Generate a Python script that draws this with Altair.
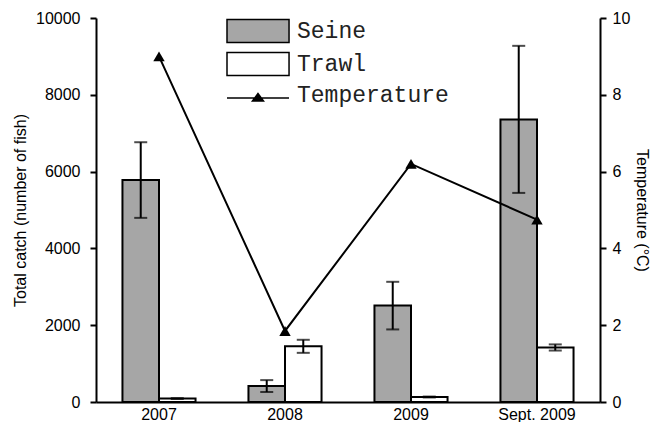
import altair as alt
import pandas as pd

categories = ["2007", "2008", "2009", "Sept. 2009"]
seine = [5780, 415, 2510, 7360]
seine_err = [985, 155, 620, 1915]
trawl = [90, 1450, 130, 1420]
trawl_err = [12, 170, 12, 80]
temperature = [9.0, 1.85, 6.2, 4.75]
series_names = ["Seine", "Trawl", "Temperature"]
series_fill = ["#a6a6a6", "#ffffff", "#000000"]
series_stroke = ["#000000", "#000000", "#000000"]

rows = []
for i, c in enumerate(categories):
    rows.append(dict(cat=c, series="Seine", value=seine[i],
                     lo=seine[i] - seine_err[i], hi=seine[i] + seine_err[i]))
    rows.append(dict(cat=c, series="Trawl", value=trawl[i],
                     lo=trawl[i] - trawl_err[i], hi=trawl[i] + trawl_err[i]))
bars_df = pd.DataFrame(rows)
temp_df = pd.DataFrame({"cat": categories, "temp": temperature,
                        "series": ["Temperature"] * len(categories)})

# legend symbol shapes (unit = 12 px with symbolSize 576)
rect_path = "M-1,-0.96H4.17V0.96H-1Z"
tline_path = "M-1,0.25H4.17M1.58,-0.12L2.04,0.5L1.12,0.5Z"

FONT = "Liberation Sans"

leg = alt.Legend(title=None, orient="none", legendX=130, legendY=0,
                 symbolSize=576, symbolStrokeWidth=1.5,
                 symbolOpacity=1, labelFont="Liberation Mono", labelFontSize=23,
                 labelColor="#222", labelOffset=45, padding=0, rowPadding=3)

fill_enc = alt.Fill("series:N", scale=alt.Scale(domain=series_names, range=series_fill),
                    legend=leg)

x_enc = alt.X("cat:N", sort=categories,
              scale=alt.Scale(paddingInner=0.42, paddingOuter=0.21),
              axis=alt.Axis(title=None, labelAngle=0, ticks=False, domainColor="black",
                            domainWidth=2, labelFont=FONT, labelFontSize=16,
                            labelColor="black", labelPadding=4))
xoff_enc = alt.XOffset("series:N", sort=["Seine", "Trawl"],
                       scale=alt.Scale(domain=["Seine", "Trawl"], paddingInner=0, paddingOuter=0))

y_scale = alt.Scale(domain=[0, 10000], nice=False)
y_axis = alt.Axis(values=[0, 2000, 4000, 6000, 8000, 10000], format="d", grid=False,
                  domainColor="black", domainWidth=2, tickColor="black", tickWidth=2,
                  tickSize=6, labelFont=FONT, labelFontSize=16, labelColor="black",
                  labelPadding=10, titleFont=FONT, titleFontSize=16,
                  titleFontWeight="normal", titleColor="black", titlePadding=7,
                  title="Total catch (number of fish)")

bars = alt.Chart(bars_df).mark_bar(stroke="black", strokeWidth=2).encode(
    x=x_enc, xOffset=xoff_enc,
    y=alt.Y("value:Q", scale=y_scale, axis=y_axis),
    fill=fill_enc,
)
err = alt.Chart(bars_df).mark_rule(color="black", strokeWidth=2).encode(
    x=x_enc, xOffset=xoff_enc,
    y=alt.Y("lo:Q", scale=y_scale), y2="hi:Q",
)
cap_lo = alt.Chart(bars_df).mark_tick(color="black", thickness=2, size=13).encode(
    x=x_enc, xOffset=xoff_enc, y=alt.Y("lo:Q", scale=y_scale))
cap_hi = alt.Chart(bars_df).mark_tick(color="black", thickness=2, size=13).encode(
    x=x_enc, xOffset=xoff_enc, y=alt.Y("hi:Q", scale=y_scale))

left = alt.layer(bars, err, cap_lo, cap_hi)

t_scale = alt.Scale(domain=[0, 10], nice=False)
t_axis = alt.Axis(orient="right", values=[0, 2, 4, 6, 8, 10], grid=False,
                  domainColor="black", domainWidth=2, tickColor="black", tickWidth=2,
                  tickSize=6, labelFont=FONT, labelFontSize=16, labelColor="black",
                  labelPadding=6, titleFont=FONT, titleFontSize=16,
                  titleFontWeight="normal", titleColor="black", titlePadding=4,
                  title="Temperature (°C)")

tline = alt.Chart(temp_df).mark_line(color="black", strokeWidth=2).encode(
    x=x_enc, y=alt.Y("temp:Q", scale=t_scale, axis=t_axis))
tpts = alt.Chart(temp_df).mark_point(shape="triangle-up", filled=True, color="black",
                                     size=130, opacity=1).encode(
    x=x_enc, y=alt.Y("temp:Q", scale=t_scale, axis=t_axis))
# legend-only layer (its rows are filtered away, the scales keep their explicit domains)
tleg = alt.Chart(temp_df).mark_point(filled=True, strokeWidth=1.5).encode(
    x=x_enc, y=alt.Y("temp:Q", scale=t_scale, axis=t_axis),
    fill=fill_enc,
    stroke=alt.Stroke("series:N", scale=alt.Scale(domain=series_names, range=series_stroke),
                      legend=leg),
    shape=alt.Shape("series:N", scale=alt.Scale(domain=series_names,
                                                range=[rect_path, rect_path, tline_path]),
                    legend=leg),
).transform_filter("false")
right = alt.layer(tline, tpts, tleg)

chart = alt.layer(left, right).resolve_scale(y="independent").properties(
    width=646, height=414,
    autosize=alt.AutoSizeParams(type="fit", contains="padding"),
    padding={"left": 4, "top": 2, "right": 4, "bottom": 0},
    background="white",
).configure_view(stroke=None)

chart.save("out.html", embed_options={"renderer": "svg", "actions": False})
